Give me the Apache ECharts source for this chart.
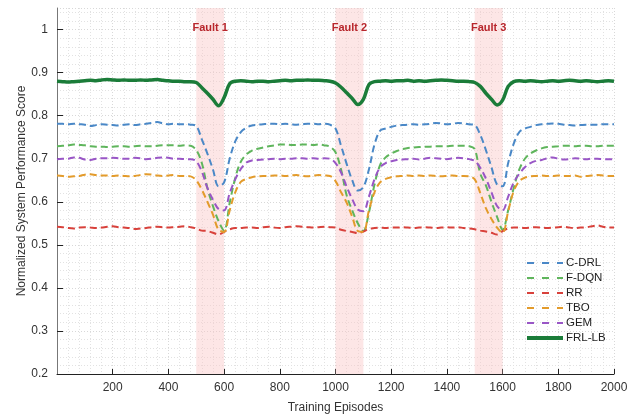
<!DOCTYPE html>
<html>
<head>
<meta charset="utf-8">
<script src="https://cdn.jsdelivr.net/npm/echarts@6/dist/echarts.min.js"></script>
<style>
  html, body { margin: 0; padding: 0; background: #fff; }
  #chart { width: 636px; height: 414px; }
</style>
</head>
<body>
<div id="chart"></div>
<script>
// episodes sampled every 20 from 0 to 2000
const episodes = Array.from({ length: 101 }, (_, i) => i * 20);

const faultNames = ['Fault 1', 'Fault 2', 'Fault 3'];
const faultStart = [500, 1000, 1500];
const faultEnd = [600, 1100, 1600];

const cdrl = [
  0.781,0.781,0.780,0.781,0.780,0.779,0.776,0.778,0.780,0.779,0.778,0.777,0.779,0.780,0.778,0.780,0.781,0.783,0.785,0.782,0.780,0.781,0.780,0.780,0.779,
  0.776,0.745,0.712,0.675,0.636,0.645,0.700,0.740,0.762,0.772,0.777,
  0.779,0.780,0.781,0.781,0.780,0.781,0.780,0.779,0.780,0.781,0.781,0.780,0.781,0.779,
  0.770,0.730,0.688,0.650,0.626,0.634,0.675,0.733,0.765,0.770,0.774,0.777,0.778,
  0.779,0.780,0.779,0.780,0.781,0.783,0.782,0.780,0.781,0.783,0.782,0.780,
  0.778,0.755,0.720,0.680,0.640,0.636,0.690,0.735,0.762,0.770,0.774,
  0.778,0.780,0.781,0.782,0.781,0.779,0.778,0.777,0.778,0.779,0.779,0.779,0.780,0.780,0.780
];

const fdqn = [
  0.729,0.730,0.731,0.733,0.732,0.731,0.729,0.728,0.728,0.727,0.728,0.729,0.729,0.728,0.729,0.730,0.729,0.729,0.730,0.731,0.731,0.731,0.730,0.731,0.730,
  0.720,0.690,0.632,0.590,0.555,0.533,0.597,0.655,0.693,0.710,0.719,0.723,0.726,0.729,0.731,
  0.733,0.733,0.732,0.732,0.733,0.733,0.732,0.733,0.731,0.728,
  0.715,0.675,0.615,0.580,0.550,0.532,0.575,0.640,0.685,0.703,0.712,0.718,0.722,0.725,
  0.726,0.727,0.728,0.728,0.729,0.729,0.729,0.730,0.730,0.730,0.729,
  0.722,0.665,0.638,0.600,0.565,0.535,0.580,0.632,0.675,0.700,0.712,0.719,0.724,0.727,
  0.728,0.729,0.730,0.730,0.729,0.730,0.730,0.729,0.729,0.730,0.730,0.730
];

const rr = [
  0.542,0.541,0.539,0.538,0.540,0.541,0.540,0.539,0.540,0.542,0.543,0.541,0.540,0.539,0.537,0.538,0.539,0.541,0.542,0.541,0.540,0.541,0.542,0.543,0.541,
  0.538,0.533,0.532,0.528,0.524,0.530,0.536,0.539,
  0.539,0.540,0.540,0.539,0.541,0.542,0.540,0.539,0.541,0.542,0.543,0.542,0.541,0.540,0.541,0.542,0.541,
  0.540,0.535,0.532,0.530,0.527,0.531,0.537,0.539,
  0.540,0.539,0.540,0.540,0.541,0.540,0.539,0.540,0.541,0.540,0.539,0.540,0.541,0.540,0.541,0.539,0.538,
  0.536,0.533,0.531,0.528,0.524,0.532,0.538,0.540,
  0.540,0.539,0.540,0.541,0.540,0.539,0.540,0.541,0.542,0.540,0.539,0.540,0.541,0.543,0.545,0.542,0.540,0.540
];

const tbo = [
  0.661,0.660,0.658,0.659,0.660,0.663,0.664,0.662,0.661,0.661,0.660,0.661,0.660,0.659,0.660,0.662,0.664,0.663,0.661,0.660,0.661,0.662,0.660,0.660,0.659,
  0.650,0.628,0.600,0.570,0.535,0.530,0.580,0.622,0.646,0.653,0.657,
  0.659,0.660,0.660,0.661,0.661,0.660,0.661,0.662,0.660,0.659,0.661,0.662,0.661,0.660,
  0.648,0.622,0.598,0.565,0.532,0.530,0.580,0.622,0.645,0.653,0.657,
  0.659,0.660,0.661,0.660,0.661,0.660,0.661,0.660,0.659,0.660,0.661,0.660,0.660,0.659,
  0.652,0.620,0.585,0.560,0.540,0.528,0.578,0.625,0.648,0.656,0.659,
  0.660,0.661,0.660,0.660,0.661,0.660,0.660,0.661,0.658,0.660,0.661,0.662,0.661,0.660,0.660
];

const gem = [
  0.699,0.700,0.700,0.703,0.702,0.698,0.697,0.700,0.701,0.701,0.702,0.701,0.700,0.700,0.702,0.701,0.699,0.700,0.702,0.703,0.702,0.700,0.700,0.699,0.699,
  0.694,0.670,0.632,0.605,0.583,0.580,0.620,0.652,0.676,0.691,0.696,
  0.697,0.698,0.699,0.700,0.699,0.700,0.700,0.701,0.701,0.700,0.701,0.700,0.701,0.700,
  0.690,0.668,0.635,0.606,0.582,0.578,0.612,0.652,0.680,0.690,0.694,0.697,0.698,
  0.699,0.700,0.698,0.700,0.702,0.701,0.700,0.699,0.701,0.702,0.701,0.699,
  0.695,0.679,0.654,0.622,0.590,0.580,0.612,0.645,0.665,0.680,0.690,0.695,0.697,
  0.701,0.703,0.700,0.698,0.699,0.701,0.700,0.699,0.700,0.700,0.699,0.699,0.699
];

const frllb = [
  0.880,0.879,0.878,0.879,0.880,0.881,0.882,0.881,0.883,0.884,0.883,0.882,0.883,0.882,0.882,0.883,0.882,0.883,0.884,0.882,0.881,0.880,0.880,0.879,0.879,
  0.877,0.865,0.852,0.838,0.823,0.842,0.874,0.880,
  0.881,0.880,0.879,0.880,0.880,0.879,0.880,0.881,0.882,0.881,0.882,0.882,0.883,0.882,0.882,0.881,0.880,
  0.876,0.866,0.853,0.840,0.826,0.838,0.872,0.879,
  0.880,0.881,0.880,0.881,0.881,0.882,0.880,0.881,0.880,0.881,0.882,0.883,0.882,0.881,0.880,0.880,0.879,
  0.877,0.868,0.852,0.838,0.825,0.836,0.868,0.879,
  0.881,0.880,0.881,0.880,0.879,0.880,0.881,0.880,0.881,0.882,0.881,0.880,0.881,0.880,0.879,0.880,0.881,0.880
];

const seriesNames = ['C-DRL', 'F-DQN', 'RR', 'TBO', 'GEM', 'FRL-LB'];
const seriesValues = [cdrl, fdqn, rr, tbo, gem, frllb];
const colors = ['#4a88c7', '#5fb55c', '#d8413b', '#e39b2b', '#9956c6', '#1b7c39'];

const chart = echarts.init(document.getElementById('chart'), null, { renderer: 'canvas' });

const font = 'Liberation Sans, Arial, sans-serif';

const lineSeries = seriesNames.map((name, k) => {
  const solid = name === 'FRL-LB';
  return {
    name: name,
    type: 'line',
    data: episodes.map((e, i) => [e, seriesValues[k][i]]),
    symbol: 'none',
    smooth: 0.35,
    z: 3 + k,
    lineStyle: {
      color: colors[k],
      width: solid ? 3.5 : 2,
      type: solid ? 'solid' : [7, 4]
    },
    itemStyle: { color: colors[k] }
  };
});

const option = {
  animation: false,
  backgroundColor: '#fff',
  grid: { left: 57, right: 22, top: 8, bottom: 40, outerBoundsMode: 'none' },
  // y axis title placed by hand so it sits where the reference has it
  graphic: [{
    type: 'text',
    x: 22,
    y: 191,
    rotation: Math.PI / 2,
    style: {
      text: 'Normalized System Performance Score',
      font: '12px Liberation Sans, Arial, sans-serif',
      fill: '#333',
      align: 'center',
      verticalAlign: 'middle'
    }
  }],
  legend: {
    orient: 'vertical',
    left: 520,
    top: 252,
    itemWidth: 36,
    itemHeight: 12,
    itemGap: 3,
    itemStyle: { opacity: 0 },
    textStyle: { fontFamily: font, fontSize: 11.5, color: '#222', padding: [0, 0, 0, -2] },
    data: seriesNames.map((n, k) => ({
      name: n,
      lineStyle: n === 'FRL-LB' ? { width: 4, type: 'solid' } : { width: 2, type: [7, 8] }
    }))
  },
  xAxis: {
    type: 'value',
    min: 0,
    max: 2000,
    interval: 200,
    name: 'Training Episodes',
    nameLocation: 'middle',
    nameGap: 28,
    nameTextStyle: { fontFamily: font, fontSize: 12, color: '#333' },
    axisLine: { show: true, lineStyle: { color: '#222', width: 1 } },
    axisTick: { show: true, inside: true, length: 5, lineStyle: { color: '#222' } },
    axisLabel: {
      showMinLabel: false,
      margin: 8,
      fontFamily: font,
      fontSize: 12,
      color: '#333',
      formatter: v => String(v)
    },
    splitLine: { show: true, lineStyle: { color: '#d8d8d8', type: [1, 2] } },
    minorTick: { show: false, splitNumber: 5 },
    minorSplitLine: { show: true, lineStyle: { color: '#e2e2e2', type: [1, 2] } }
  },
  yAxis: {
    type: 'value',
    min: 0.2,
    max: 1.05,
    interval: 0.1,
    axisLine: { show: true, lineStyle: { color: '#777', width: 1 } },
    axisTick: { show: true, inside: true, length: 6, lineStyle: { color: '#222' } },
    axisLabel: {
      showMaxLabel: false,
      margin: 9,
      fontFamily: font,
      fontSize: 12,
      color: '#333',
      formatter: v => (Math.abs(v - 1) < 1e-9 ? '1' : v.toFixed(1))
    },
    splitLine: { show: true, lineStyle: { color: '#d8d8d8', type: [1, 2] } },
    minorTick: { show: false, splitNumber: 5 },
    minorSplitLine: { show: true, lineStyle: { color: '#e2e2e2', type: [1, 2] } }
  },
  series: [
    {
      name: 'faults',
      type: 'line',
      data: [],
      z: 1,
      silent: true,
      markArea: {
        silent: true,
        itemStyle: { color: 'rgba(250, 200, 200, 0.45)' },
        label: {
          show: true,
          position: 'insideTop',
          distance: 14,
          fontFamily: font,
          fontSize: 11,
          fontWeight: 'bold',
          color: '#b8262c'
        },
        data: faultNames.map((n, i) => [
          { name: n, xAxis: faultStart[i] },
          { xAxis: faultEnd[i] }
        ])
      }
    }
  ].concat(lineSeries)
};

chart.setOption(option);
</script>
</body>
</html>
